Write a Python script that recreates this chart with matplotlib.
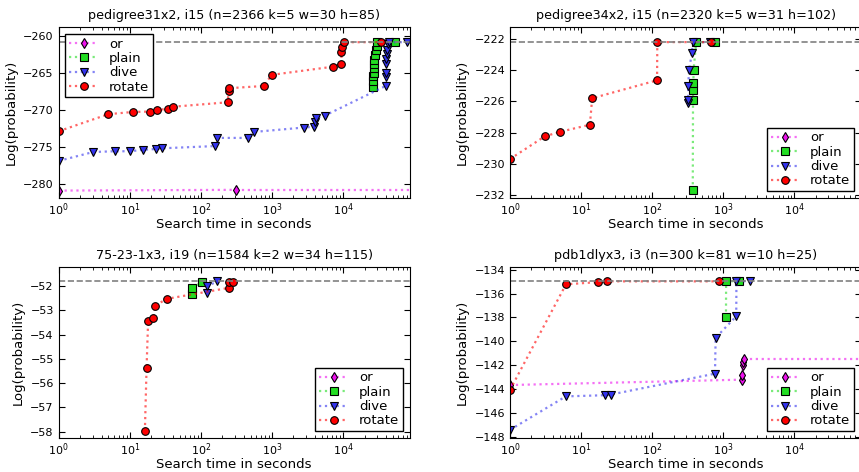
import numpy as np
import matplotlib
matplotlib.use('Agg')
import matplotlib.pyplot as plt

TIME_LIMIT = 86400  # a point at the limit means the run timed out (line only, no marker)

# pedigree31x2
p31_title = 'pedigree31x2, i15 (n=2366 k=5 w=30 h=85)'
p31_best = -260.9
p31_or_t = [1, 314, TIME_LIMIT]
p31_or_v = [-280.9, -280.8, -280.8]
p31_plain_t = [26500, 26600, 26700, 26800, 26900, 27000, 27200, 28500, 29000, 29500, 30000, 53000]
p31_plain_v = [-266.9, -266.1, -265.5, -265.0, -264.4, -263.8, -263.3, -262.6, -262.0, -261.4, -260.9, -260.9]
p31_dive_t = [1, 3.06, 6.1, 10.2, 15.2, 23, 28.6, 158, 169, 454, 552, 2810, 3890, 4000, 4200, 5510,
              39600, 39800, 40000, 40200, 40500, 41000, 41500, 43000, 43500, 78000]
p31_dive_v = [-276.9, -275.7, -275.6, -275.6, -275.4, -275.3, -275.2, -274.9, -273.8, -273.8, -273.0, -272.4,
              -272.3, -271.6, -271.1, -270.8, -266.8, -265.6, -265.0, -263.8, -263.2, -262.5, -262.0, -261.2,
              -260.9, -260.9]
p31_rotate_t = [1, 5, 11.1, 19.3, 24.3, 34.7, 40.4, 237, 247, 248, 764, 992, 7220, 9470, 9480, 9800, 10300, 34000]
p31_rotate_v = [-272.9, -270.6, -270.3, -270.25, -270.0, -269.9, -269.6, -269.0, -267.5, -267.1, -266.8, -265.3,
                -264.2, -263.8, -262.2, -261.6, -260.9, -260.9]

# pedigree34x2
p34_title = 'pedigree34x2, i15 (n=2320 k=5 w=31 h=102)'
p34_best = -222.2
p34_or_t = []
p34_or_v = []
p34_plain_t = [372, 375, 377, 379, 382, 415, 755]
p34_plain_v = [-231.7, -225.9, -225.3, -224.85, -224.0, -222.2, -222.2]
p34_dive_t = [318, 320, 322, 329, 362, 372, 645]
p34_dive_v = [-226.1, -225.9, -225.0, -224.0, -222.9, -222.2, -222.2]
p34_rotate_t = [1, 3.07, 5.09, 13.3, 14.3, 117, 118, 662]
p34_rotate_v = [-229.7, -228.25, -227.95, -227.5, -225.8, -224.65, -222.2, -222.2]

# 75-23-1x3
g75_title = '75-23-1x3, i19 (n=1584 k=2 w=34 h=115)'
g75_best = -51.8
g75_or_t = []
g75_or_v = []
g75_plain_t = [75, 76, 105]
g75_plain_v = [-52.34, -52.07, -51.82]
g75_dive_t = [120, 123, 171]
g75_dive_v = [-52.28, -52.0, -51.8]
g75_rotate_t = [16.3, 17.2, 18.1, 21.5, 22.5, 33.6, 247, 248, 285]
g75_rotate_v = [-57.97, -55.39, -53.43, -53.32, -52.8, -52.52, -52.07, -51.81, -51.81]

# pdb1dlyx3
pdb_title = 'pdb1dlyx3, i3 (n=300 k=81 w=10 h=25)'
pdb_best = -134.95
pdb_or_t = [1, 1850, 1860, 1870, 1880, 1950, TIME_LIMIT]
pdb_or_v = [-143.65, -143.2, -142.8, -142.0, -141.7, -141.5, -141.5]
pdb_plain_t = [1090, 1095, 1680]
pdb_plain_v = [-138.0, -134.97, -134.97]
pdb_dive_t = [1, 6.1, 22, 26, 764, 780, 1520, 1530, 2350]
pdb_dive_v = [-147.4, -144.6, -144.5, -144.45, -142.7, -139.7, -137.9, -134.97, -134.97]
pdb_rotate_t = [1, 6.13, 17.5, 23.4, 871]
pdb_rotate_v = [-144.06, -135.23, -135.04, -134.98, -134.98]

names = ['or', 'plain', 'dive', 'rotate']
markers = {'or': 'd', 'plain': 's', 'dive': 'v', 'rotate': 'o'}
colors = {'or': '#ee11ee', 'plain': '#22dd22', 'dive': '#3333ee', 'rotate': '#ff0000'}


def draw_panel(ax, title, best, series, ylim, ystep, loc):
    for name, t, v in zip(names, series[0::2], series[1::2]):
        t = np.array(t, dtype=float)
        v = np.array(v, dtype=float)
        real = t < TIME_LIMIT
        lc = matplotlib.colors.to_rgba(colors[name], 0.6)
        ax.plot(t[real], v[real], ls=':', lw=1.6, color=lc, marker=markers[name], ms=5.5,
                mfc=colors[name], mec='black', mew=0.8, label=name)
        if (~real).any():
            # timed out: keep the last value going to the time limit
            ax.plot(t[-2:], v[-2:], ls=':', lw=1.6, color=lc)
    ax.axhline(best, color='gray', ls='--', lw=1.2)
    ax.set_xscale('log')
    ax.set_xlim(1, TIME_LIMIT)
    ax.set_ylim(ylim)
    ax.set_yticks(np.arange(np.ceil(ylim[0] / ystep) * ystep, ylim[1], ystep))
    ax.tick_params(which='both', direction='in', top=True, right=True, labelsize=8)
    ax.tick_params(which='major', length=4)
    ax.tick_params(which='minor', length=2)
    ax.tick_params(axis='x', pad=2.5)
    ax.set_title(title, fontsize=9.2)
    ax.set_xlabel('Search time in seconds', fontsize=9.5, labelpad=0)
    ax.set_ylabel('Log(probability)', fontsize=9.5)
    leg = ax.legend(loc=loc, numpoints=1, fontsize=9.5, fancybox=False, labelspacing=0.1,
                    handlelength=2.2, borderpad=0.3, framealpha=1)
    leg.get_frame().set_edgecolor('black')


def main():
    fig = plt.figure(figsize=(8.59, 4.72), dpi=100)
    w = 351 / 859
    h = 171 / 472
    ax1 = fig.add_axes([58.7 / 859, 1 - 198 / 472, w, h])
    ax2 = fig.add_axes([510 / 859, 1 - 198 / 472, w, h])
    ax3 = fig.add_axes([58.7 / 859, 1 - 438 / 472, w, h])
    ax4 = fig.add_axes([510 / 859, 1 - 438 / 472, w, h])

    draw_panel(ax1, p31_title, p31_best,
               [p31_or_t, p31_or_v, p31_plain_t, p31_plain_v, p31_dive_t, p31_dive_v, p31_rotate_t, p31_rotate_v],
               (-281.9, -258.85), 5, 'upper left')
    draw_panel(ax2, p34_title, p34_best,
               [p34_or_t, p34_or_v, p34_plain_t, p34_plain_v, p34_dive_t, p34_dive_v, p34_rotate_t, p34_rotate_v],
               (-232.2, -221.23), 2, 'lower right')
    draw_panel(ax3, g75_title, g75_best,
               [g75_or_t, g75_or_v, g75_plain_t, g75_plain_v, g75_dive_t, g75_dive_v, g75_rotate_t, g75_rotate_v],
               (-58.26, -51.21), 1, 'lower right')
    draw_panel(ax4, pdb_title, pdb_best,
               [pdb_or_t, pdb_or_v, pdb_plain_t, pdb_plain_v, pdb_dive_t, pdb_dive_v, pdb_rotate_t, pdb_rotate_v],
               (-148.08, -133.78), 2, 'lower right')

    fig.savefig('out.png', dpi=100)


if __name__ == "__main__":
    main()
